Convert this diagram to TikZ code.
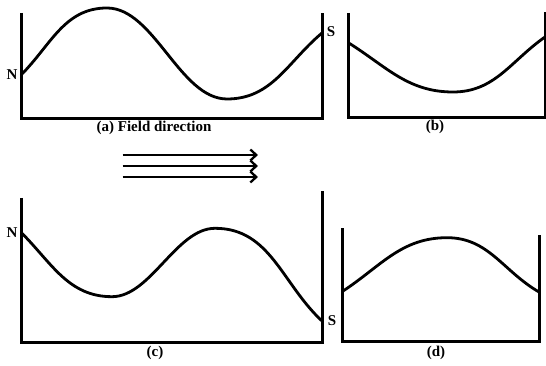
\documentclass[tikz,border=0pt]{standalone}
\usepackage{fontspec}
\setmainfont{Liberation Serif}
\usetikzlibrary{arrows.meta,positioning}

\begin{document}
\begin{tikzpicture}[
  x=1pt, y=1pt,
  wall/.style={line width=3pt},
  wave/.style={line width=2.8pt},
  field/.style={line width=2.3pt, -{Straight Barb[length=6pt,width=11pt,line width=2.3pt]}},
  lbl/.style={font=\bfseries\fontsize{15}{17}\selectfont, inner sep=0pt}
]
\useasboundingbox (0,0) rectangle (546,366);

% (a)
\draw[wall] (21,353) -- (21,247) -- (322,247) -- (322,353);
\draw[wave] (21,291) to[out=45,in=180] (107,358) to[out=0,in=180,looseness=0.8] (227,267) to[out=0,in=220] (322,333);
\node[lbl] (na) at (12,291) {N};
\node[lbl] (sa) at (331,334) {S};
\node[lbl] (capa) at (154,238) {(a) Field direction};

% (b)
\draw[wall] (348,353) -- (348,248.5) -- (545,248.5) -- (545,354);
\draw[wave] (348,323.5) to[out=-32,in=180] (453,274) to[out=0,in=215] (545,329);
\node[lbl] (capb) at (435,239) {(b)};

% field arrows
\foreach \yy/\nm in {211/1,200/2,189/3}{
  \coordinate (f\nm s) at (122.7,\yy);
  \coordinate (f\nm e) at (258,\yy);
  \draw[field] (f\nm s) -- (f\nm e);
}

% (c)
\draw[wall] (21,168) -- (21,23.3) -- (322,23.3) -- (322,175.3);
\draw[wave] (21,133.7) to[out=-45,in=180] (112,69.3) to[out=0,in=180,looseness=0.8] (215,137.7) to[out=0,in=137] (322,45);
\node[lbl] (nc) at (12,133) {N};
\node[lbl] (sc) at (332,45) {S};
\node[lbl] (capc) at (155,13) {(c)};

% (d)
\draw[wall] (342,137.7) -- (342,24.3) -- (539,24.3) -- (539,131);
\draw[wave] (342,74.3) to[out=33,in=180] (447,128.3) to[out=0,in=150] (539,74);
\node[lbl] (capd) at (436,13) {(d)};

\end{tikzpicture}
\end{document}
